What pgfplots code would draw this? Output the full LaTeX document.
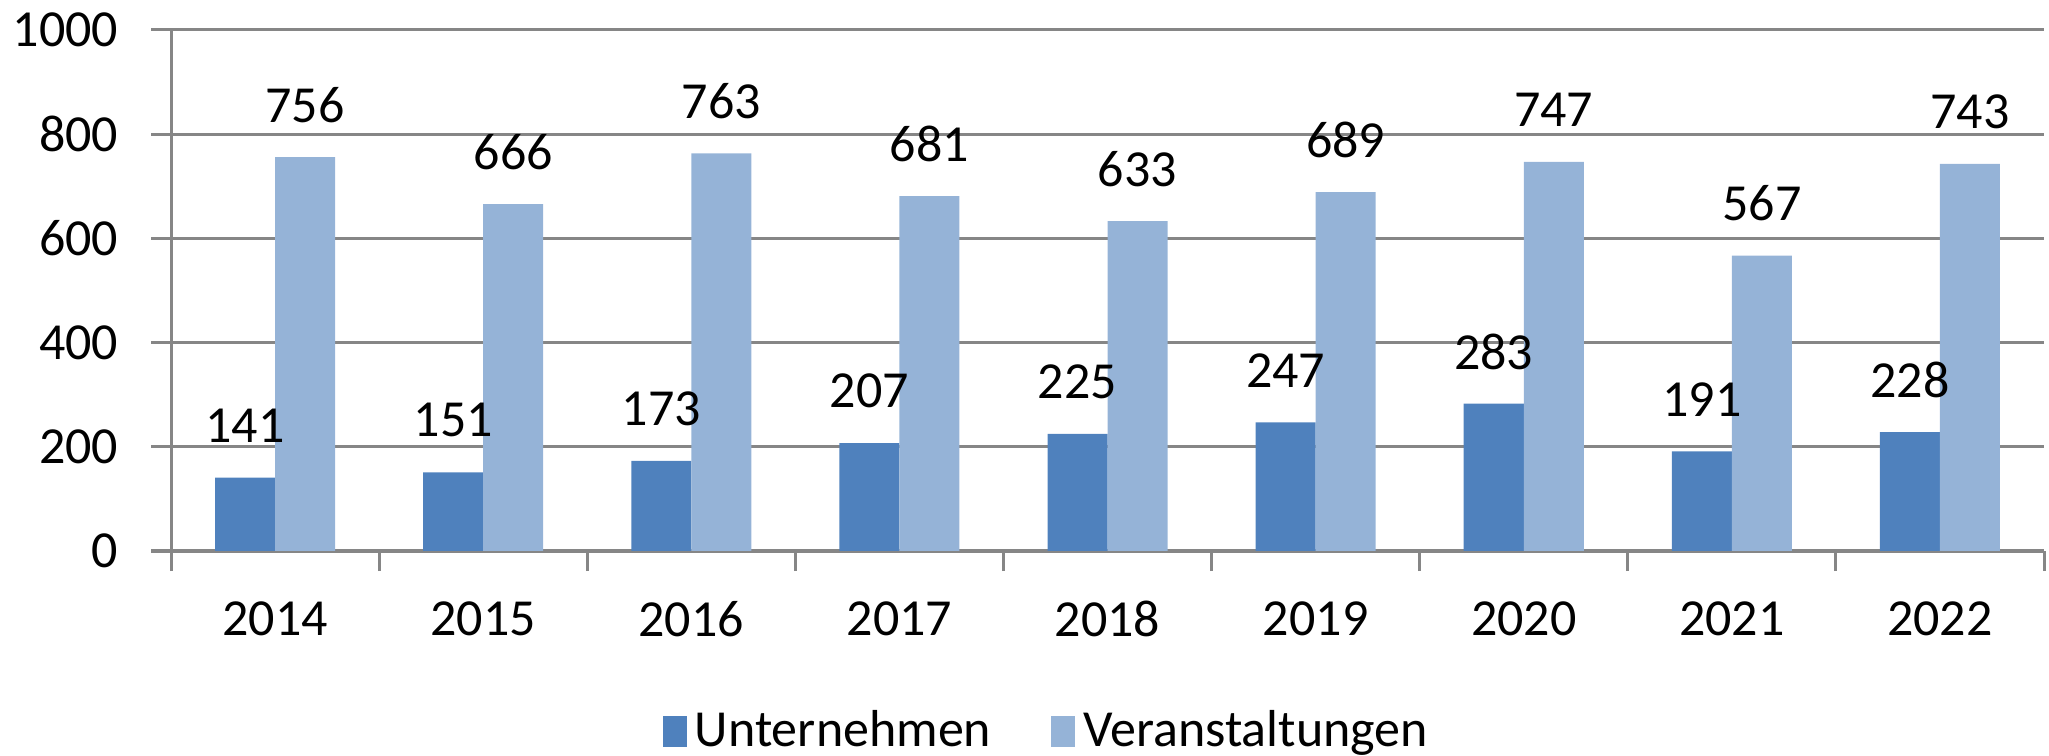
\documentclass[border=0pt]{standalone}
\usepackage{fontspec}
\setmainfont{Carlito}
\usepackage{pgfplots}
\pgfplotsset{compat=1.18}
\definecolor{unternehmen}{RGB}{79,129,189}
\definecolor{veranst}{RGB}{149,179,215}
\definecolor{gridgray}{RGB}{134,134,134}
\newcommand\lbl{\fontsize{13pt}{15.6pt}\selectfont}

\begin{document}
\begin{tikzpicture}
\begin{axis}[
  scale only axis, width=468.25pt, height=130.25pt,
  ybar=0pt, bar width=15pt,
  xmin=-0.5, xmax=8.5, ymin=0, ymax=1000,
  xtick={-0.5,0.5,1.5,2.5,3.5,4.5,5.5,6.5,7.5,8.5},
  x tick label as interval,
  xticklabels={2014,2015,2016,2017,2018,2019,2020,2021,2022},
  ytick={0,200,...,1000},
  ymajorgrids, grid style={gridgray, line width=0.75pt},
  axis x line*=bottom, axis y line*=left,
  axis line style={-, gridgray, line width=0.75pt},
  tick style={gridgray, line width=0.75pt},
  major tick length=5pt, tick align=outside,
  tick label style={font=\lbl, text=black},
  yticklabel style={anchor=east, inner sep=0pt, xshift=-8pt},
  xticklabel style={anchor=center, yshift=-12pt},
  /pgf/number format/assume math mode=true,
  /pgf/number format/1000 sep={},
  nodes near coords,
  every node near coord/.append style={anchor=center, yshift=13pt, font=\lbl, text=black},
  legend style={at={(0.469,-0.347)}, anchor=center, draw=none, fill=none,
    legend columns=2, font=\lbl,
    /tikz/every even column/.append style={column sep=13pt}},
]
\addplot[fill=unternehmen, draw=none,
  legend image code/.code={\fill[unternehmen] (0pt,-3.9pt) rectangle (6pt,3.9pt);}]
  coordinates {(0,141)(1,151)(2,173)(3,207)(4,225)(5,247)(6,283)(7,191)(8,228)};
\addplot[fill=veranst, draw=none,
  legend image code/.code={\fill[veranst] (0pt,-3.9pt) rectangle (6pt,3.9pt);}]
  coordinates {(0,756)(1,666)(2,763)(3,681)(4,633)(5,689)(6,747)(7,567)(8,743)};
\legend{Unternehmen, Veranstaltungen}
\coordinate (bl) at (rel axis cs:0,0);
\coordinate (tr) at (rel axis cs:1,1);
\end{axis}
\pgfresetboundingbox
\path[use as bounding box] ([shift={(-42.75pt,-51pt)}]bl) rectangle ([shift={(1.25pt,7.5pt)}]tr);
\end{tikzpicture}
\end{document}
